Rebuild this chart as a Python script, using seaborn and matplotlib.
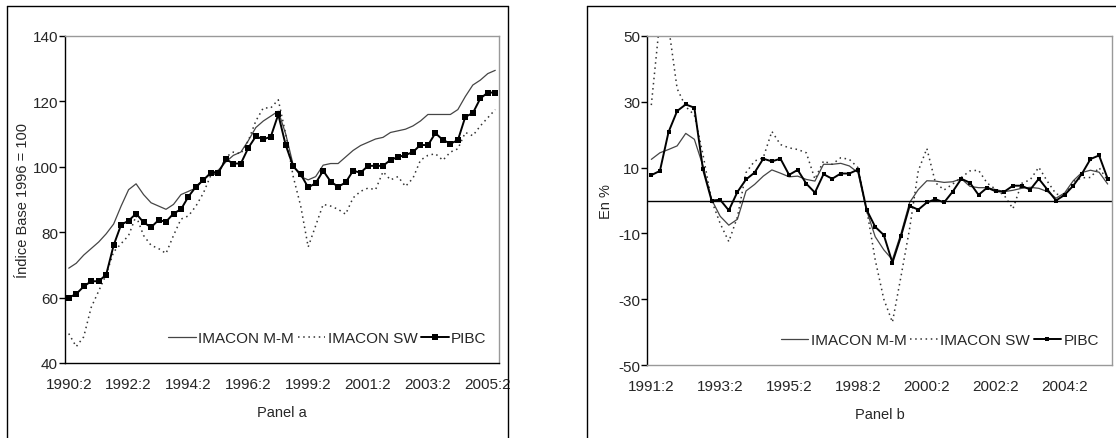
import numpy as np
import pandas as pd
import matplotlib
matplotlib.use("Agg")
import matplotlib.pyplot as plt
from matplotlib.lines import Line2D
import seaborn as sns

# Panel a: index, base 1996 = 100 (quarterly, 58 points)
mm_a = [69, 70.5, 73, 75, 77, 79.5, 82.5, 88, 93, 94.8, 91.5, 89, 88, 87, 88.5,
        91.5, 92.5, 93.5, 96, 98, 99, 101.5, 103.5, 104.5, 108, 112, 114, 115.5,
        117, 110, 100.5, 97, 96, 97, 100.5, 101, 101, 103, 105, 106.5, 107.5,
        108.5, 109, 110.5, 111, 111.5, 112.5, 114, 116, 116, 116, 116, 117.5,
        121.5, 125, 126.5, 128.5, 129.5]
sw_a = [49, 45, 48, 57, 62, 67, 74, 76.5, 79, 85, 79, 76, 75, 73.5, 79, 84, 85,
        88, 92, 97.5, 98, 103, 104.5, 104, 108, 114, 118, 118, 120.5, 110, 97,
        88, 75.5, 82, 88.5, 88, 87, 85.5, 90.5, 92.5, 93.5, 93, 98.5, 96, 97,
        94, 96.5, 102, 103.5, 104, 102, 104.5, 105.5, 110.5, 109.5, 112.5, 115,
        117.5]
pibc_a = [60, 61.1, 63.4, 65, 65, 67, 76, 82.3, 83.5, 85.7, 83, 81.5, 83.7, 83.2,
          85.7, 87, 90.9, 93.9, 96, 98.2, 98.2, 102.3, 101, 101, 105.8, 109.3,
          108.4, 109.2, 116, 106.6, 100.1, 97.7, 93.7, 95, 98.8, 95.5, 93.9, 95.2,
          98.8, 98.2, 100.3, 100.3, 100.3, 102.1, 103, 103.6, 104.5, 106.7, 106.6,
          110.3, 108.2, 107.1, 108.1, 115.3, 116.4, 120.9, 122.7, 122.7]
labels_a = ["1990:2", "1992:2", "1994:2", "1996:2", "1999:2", "2001:2", "2003:2", "2005:2"]

# Panel b: annual change in % (54 points)
mm_b = [12.5, 14.5, 15.5, 16.6, 20.4, 18.6, 10.5, 0.3, -4.8, -7.5, -5.7, 2.9, 4.9,
        7.4, 9.3, 8.3, 7.2, 7.4, 6.4, 5.9, 11, 11, 11.3, 10.5, 8.5, -3, -11,
        -15, -18, -10, -0.6, 3.3, 6, 5.9, 5.5, 5.7, 6.6, 4.3, 3.9, 3.9, 3.3, 2.7,
        3.1, 3.7, 4, 3.7, 2.7, 0.7, 2.3, 6, 8.5, 9.2, 8.6, 5]
sw_b = [29, 55, 53, 34, 28.5, 26, 14, 0, -7, -12.5, -5, 8.5, 12, 13, 21, 17, 16,
        15.5, 14.5, 6.5, 12, 11, 13, 12.5, 10, -2.5, -18, -30, -37, -23, -8.5,
        9, 15.8, 5.4, 3.2, 5, 7, 9, 9.2, 5.3, 3.4, 1.5, -2.5, 5.2, 6.3, 10.1, 5.8,
        2, 1.3, 5.8, 6.9, 7, 10, 6]
pibc_b = [7.7, 9, 20.8, 27.2, 29.2, 28.2, 9.5, 0, 0.2, -3, 2.6, 6.4, 8.5, 12.7,
          11.9, 12.7, 7.8, 9.3, 5.1, 2.4, 8, 6.6, 8.2, 8.2, 9.4, -2.8, -8, -10.5,
          -18.9, -10.8, -1.6, -2.8, -0.6, 0.4, -0.6, 2.7, 6.6, 5.4, 1.7, 3.9,
          2.8, 2.7, 4.5, 4.5, 3.3, 6.6, 3.3, 0, 1.7, 4.5, 8.1, 12.6, 13.7, 6.6]
labels_b = ["1991:2", "1993:2", "1995:2", "1998:2", "2000:2", "2002:2", "2004:2"]

sns.set_style("white")
plt.rcParams['font.family'] = ['Liberation Sans', 'DejaVu Sans']
plt.rcParams['axes.unicode_minus'] = False

W, H = 1116, 439
fig = plt.figure(figsize=(W / 100, H / 100), dpi=100)


def fx(px):
    return px / W


def fy(py):
    return 1 - py / H


ax_a = fig.add_axes([fx(65), fy(364), fx(499 - 65), (364 - 37) / H])
ax_b = fig.add_axes([fx(647), fy(366), fx(1112 - 647), (366 - 37) / H])


def draw(ax, mm, sw, pibc, ms):
    df = pd.DataFrame({'t': np.arange(len(mm)), 'mm': mm, 'sw': sw, 'pibc': pibc})
    sns.lineplot(data=df, x='t', y='mm', ax=ax, color='#454545', lw=0.9,
                 label='IMACON M-M')
    sns.lineplot(data=df, x='t', y='sw', ax=ax, color='#333333', lw=1.1,
                 linestyle=(0, (1, 2.4)), label='IMACON SW')
    sns.lineplot(data=df, x='t', y='pibc', ax=ax, color='black', lw=1.4,
                 marker='s', markersize=ms, markeredgewidth=0, label='PIBC')
    ax.set_xlim(-0.5, len(mm) - 0.5)
    for side in ['top', 'right']:
        ax.spines[side].set_color('#999999')
    ax.spines['left'].set_color('black')
    for s in ax.spines.values():
        s.set_linewidth(1)
    ax.tick_params(axis='y', length=4, width=1, direction='out', left=True,
                   labelsize=11, pad=1, color='black')
    ax.tick_params(axis='x', length=0, labelsize=11, pad=10)
    ax.legend(loc='center right', bbox_to_anchor=(0.985, 0.075), ncol=3,
              frameon=False, fontsize=11, handlelength=1.8,
              handletextpad=0.15, columnspacing=0.25, borderaxespad=0)


draw(ax_a, mm_a, sw_a, pibc_a, 4.5)
ax_a.set_ylim(40, 140)
ax_a.set_yticks(range(40, 141, 20))
ax_a.set_xticks(range(0, 57, 8))
ax_a.set_xticklabels(labels_a)
ax_a.spines['bottom'].set_color('black')
ax_a.set_ylabel('Índice Base 1996 = 100', fontsize=10.5)
ax_a.yaxis.set_label_coords(-0.08, 0.5)
ax_a.set_xlabel('Panel a', fontsize=10.5, labelpad=10)

draw(ax_b, mm_b, sw_b, pibc_b, 3.5)
ax_b.set_ylim(-50, 50)
ax_b.set_yticks(range(-50, 51, 20))
ax_b.set_xticks(range(0, 49, 8))
ax_b.set_xticklabels(labels_b)
ax_b.spines['bottom'].set_color('#999999')
ax_b.axhline(0, color='black', lw=1)
ax_b.set_ylabel('En %', fontsize=10.5)
ax_b.yaxis.set_label_coords(-0.073, 0.5)
ax_b.set_xlabel('Panel b', fontsize=10.5, labelpad=10)

# outer frames around each panel
for xs, ys in [([fx(7), fx(7)], [0, fy(7)]), ([fx(7), fx(508)], [fy(7), fy(7)]),
               ([fx(508), fx(508)], [0, fy(7)]),
               ([fx(587), fx(587)], [0, fy(7)]), ([fx(587), 1], [fy(7), fy(7)])]:
    fig.add_artist(Line2D(xs, ys, color='black', lw=1, transform=fig.transFigure))

fig.savefig('out.png', dpi=100, facecolor='white')
